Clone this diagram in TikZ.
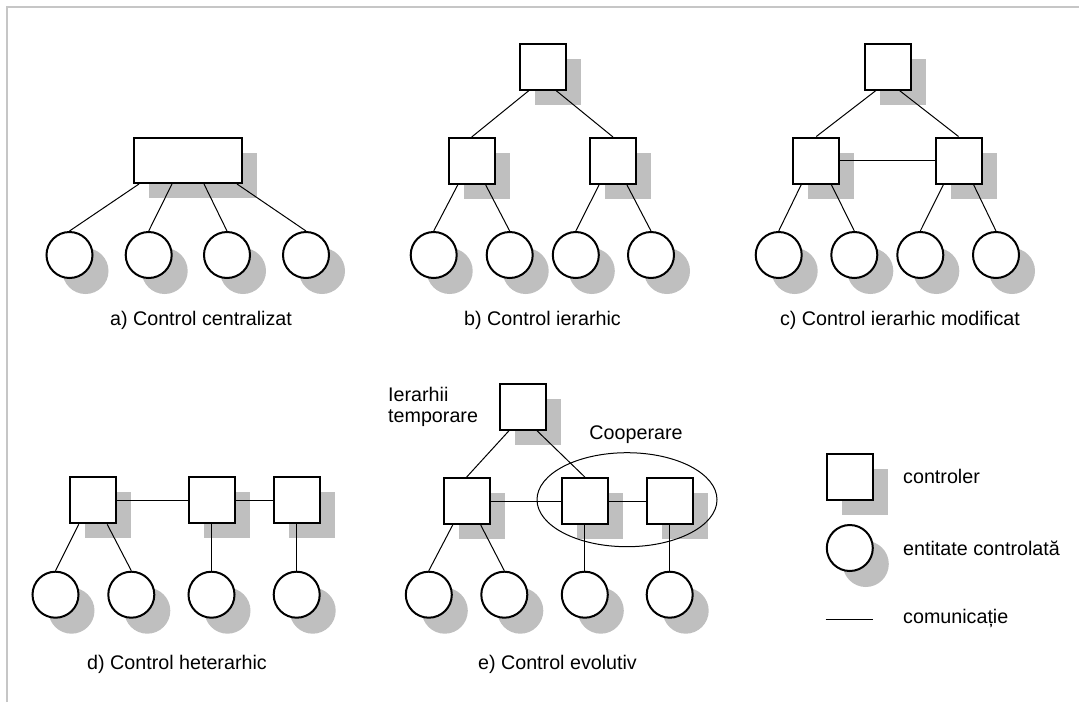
\documentclass[tikz,border=0pt]{standalone}
\usepackage{fontspec}
\setmainfont{Liberation Sans}
\usetikzlibrary{shadows, shapes.geometric}

\begin{document}
\begin{tikzpicture}[
    x=1pt,
    y=-1pt,
    ctrl/.style={draw, line width=2pt, fill=white, minimum size=46pt, inner sep=0pt,
        drop shadow={shadow xshift=15pt, shadow yshift=-15pt, fill=gray!50, opacity=1}},
    ent/.style={circle, draw, line width=2pt, fill=white, minimum size=46pt, inner sep=0pt,
        drop shadow={shadow xshift=16pt, shadow yshift=-16pt, fill=gray!50, opacity=1}},
    link/.style={line width=1pt},
    lbl/.style={font=\fontsize{19.7}{21}\selectfont, inner sep=0pt}
]
\useasboundingbox (0,0) rectangle (1079,702);
% Frame
\draw[gray!45, line width=2pt] (7.3,702) -- (7.3,6.7) -- (1079,6.7);
% a) Control centralizat
\node[ctrl, minimum width=108pt, minimum height=45pt] (ca) at (188,160.5) {};
\foreach \i/\x in {1/69.5, 2/148.7, 3/227, 4/306} {
    \node[ent] (ea\i) at (\x,255) {};
}
\foreach \i/\dx in {1/-49pt, 2/-16pt, 3/16pt, 4/49pt} {
    \draw[link] ([xshift=\dx]ca.south) -- (ea\i.north);
}
\node[lbl] (la) at (201,320) {a) Control centralizat};
% b) Control ierarhic
\node[ctrl] (tb) at (542.5,66.5) {};
\node[ctrl] (mb1) at (471.7,161) {};
\node[ctrl] (mb2) at (613,161) {};
\foreach \i/\x in {1/433.7, 2/509.7, 3/575.8, 4/651} {
    \node[ent] (eb\i) at (\x,255) {};
}
\draw[link] ([xshift=-13.5pt]tb.south) -- (mb1.north);
\draw[link] ([xshift=13.5pt]tb.south) -- (mb2.north);
\draw[link] ([xshift=-14pt]mb1.south) -- (eb1.north);
\draw[link] ([xshift=14pt]mb1.south) -- (eb2.north);
\draw[link] ([xshift=-14pt]mb2.south) -- (eb3.north);
\draw[link] ([xshift=14pt]mb2.south) -- (eb4.north);
\node[lbl] (lb) at (542.5,320) {b) Control ierarhic};
% c) Control ierarhic modificat
\node[ctrl] (tc) at (887.7,66.7) {};
\node[ctrl] (mc1) at (816.3,160.5) {};
\node[ctrl] (mc2) at (958.5,160.5) {};
\foreach \i/\x in {1/778.7, 2/854.3, 3/920.3, 4/996} {
    \node[ent] (ec\i) at (\x,255) {};
}
\draw[link] ([xshift=-12pt]tc.south) -- (mc1.north);
\draw[link] ([xshift=12pt]tc.south) -- (mc2.north);
\draw[link] (mc1.east) -- (mc2.west);
\draw[link] ([xshift=-15pt]mc1.south) -- (ec1.north);
\draw[link] ([xshift=15pt]mc1.south) -- (ec2.north);
\draw[link] ([xshift=-15pt]mc2.south) -- (ec3.north);
\draw[link] ([xshift=15pt]mc2.south) -- (ec4.north);
\node[lbl] (lc) at (900,320) {c) Control ierarhic modificat};
% d) Control heterarhic
\node[ctrl] (md1) at (93.2,500.3) {};
\node[ctrl] (md2) at (211.5,500.3) {};
\node[ctrl] (md3) at (296.7,500.3) {};
\foreach \i/\x in {1/55.5, 2/131.3, 3/211.5, 4/296.7} {
    \node[ent] (ed\i) at (\x,594.7) {};
}
\draw[link] (md1.east) -- (md2.west);
\draw[link] (md2.east) -- (md3.west);
\draw[link] ([xshift=-14.5pt]md1.south) -- (ed1.north);
\draw[link] ([xshift=14pt]md1.south) -- (ed2.north);
\draw[link] (md2.south) -- (ed3.north);
\draw[link] (md3.south) -- (ed4.north);
\node[lbl] (ld) at (177,664) {d) Control heterarhic};
% e) Control evolutiv
\node[ctrl] (te) at (523,406.7) {};
\node[ctrl] (me1) at (466.7,501) {};
\node[ctrl] (me2) at (584.8,501) {};
\node[ctrl] (me3) at (669.7,501) {};
\foreach \i/\x in {1/428.8, 2/504.3, 3/584.8, 4/669.7} {
    \node[ent] (ee\i) at (\x,594.7) {};
}
\draw[link] ([xshift=-14pt]te.south) -- (me1.north);
\draw[link] ([xshift=14pt]te.south) -- (me2.north);
\draw[link] (me1.east) -- (me2.west);
\draw[link] (me2.east) -- (me3.west);
\draw[link] ([xshift=-14pt]me1.south) -- (ee1.north);
\draw[link] ([xshift=14pt]me1.south) -- (ee2.north);
\draw[link] (me2.south) -- (ee3.north);
\draw[link] (me3.south) -- (ee4.north);
\node[ellipse, draw, link, minimum width=180pt, minimum height=94pt, inner sep=0pt] (coop) at (627,499.7) {};
\node[lbl, align=left, anchor=west] (tmp) at (388,406.7) {Ierarhii\\temporare};
\node[lbl] (lcoop) at (636,435) {Cooperare};
\node[lbl] (le) at (557.5,664) {e) Control evolutiv};
% Legend
\node[ctrl] (kc) at (849.5,477) {};
\node[ent] (ke) at (849.8,548) {};
\coordinate (kl1) at (825.7,619);
\coordinate (kl2) at (873.3,619);
\draw[link] (kl1) -- (kl2);
\node[lbl, anchor=west] (tkc) at (903,476.7) {controler};
\node[lbl, anchor=west] (tke) at (903,548.3) {entitate controlată};
\node[lbl, anchor=west] (tkl) at (903,618.3) {comunicație};
\end{tikzpicture}
\end{document}
